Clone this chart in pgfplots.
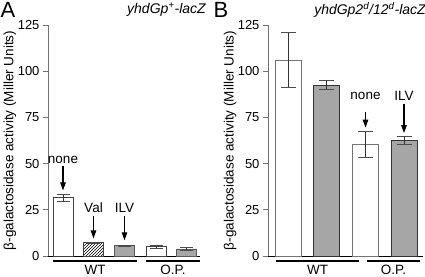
\documentclass[border=0pt]{standalone}
\usepackage{fontspec}
\setmainfont{Liberation Sans}
\usepackage{pgfplots}
\pgfplotsset{compat=1.18}
\usetikzlibrary{patterns,arrows.meta}
\definecolor{barg}{HTML}{A6A6A6}
\tikzset{
 arr/.style={-{Triangle[length=8pt,width=5.5pt]}, line width=1.1pt},
 lab/.style={font=\fontsize{13.5}{15}\selectfont, inner sep=1pt},
}
\begin{document}
\begin{tikzpicture}[x=1pt,y=1pt]
\useasboundingbox (0,0) rectangle (425,276);
\pgfplotsset{
 myax/.style={
  scale only axis, anchor=south west, height=231pt,
  ymin=0, ymax=125, ytick={0,25,50,75,100,125},
  axis x line*=bottom, axis y line*=left,
  x axis line style={black, line width=0.9pt, -},
  y axis line style={black!55, line width=0.9pt, -},
  xtick=\empty,
  tick align=outside, major tick length=5pt,
  ytick style={black!55, line width=0.9pt},
  ticklabel style={font=\fontsize{13}{15}\selectfont},
  /pgf/number format/assume math mode=true,
  ylabel={β-galactosidase activity (Miller Units)},
  label style={font=\fontsize{13.5}{15}\selectfont},
  clip=false,
  ybar, bar shift=0pt,
  error bars/y dir=both, error bars/y explicit,
  error bars/error mark=|,
  error bars/error bar style={black!80, line width=0.8pt},
 },
}
% Panel A
\begin{axis}[myax, at={(48pt,20pt)}, width=152pt, xmin=48, xmax=200, bar width=20pt,
  ylabel style={at={(axis description cs:-0.25,0.5)}, anchor=center},
  error bars/error mark options={black!70, line width=0.8pt, mark size=6.5pt}]
\addplot[draw=black!75, fill=white, line width=0.8pt] coordinates {(63,31.6) +- (0,1.8) (156.5,5.0) +- (0,1.0)};
\addplot[draw=black!75, pattern=north east lines, line width=0.8pt] coordinates {(93.5,7.2) +- (0,0.2)};
\addplot[draw=black!65, fill=barg, line width=0.8pt] coordinates {(124.5,5.6) +- (0,0.3) (186.5,3.8) +- (0,0.8)};
\node[lab] at (axis cs:63,52) {none};
\draw[arr] (axis cs:63,48.5) -- (axis cs:63,35.5);
\node[lab] at (axis cs:93.5,26) {Val};
\draw[arr] (axis cs:93.5,21.5) -- (axis cs:93.5,9.5);
\node[lab] at (axis cs:124.5,26) {ILV};
\draw[arr] (axis cs:124.5,21.5) -- (axis cs:124.5,8.5);
\draw[line width=1.2pt] (axis cs:53,-2.7) -- (axis cs:137,-2.7);
\draw[line width=1.2pt] (axis cs:146,-2.7) -- (axis cs:200,-2.7);
\node[lab] at (axis cs:95,-7.3) {WT};
\node[lab] at (axis cs:173,-7.3) {O.P.};
\end{axis}
% Panel B
\begin{axis}[myax, at={(268pt,20pt)}, width=155pt, xmin=268, xmax=423, bar width=26pt,
  ylabel style={at={(axis description cs:-0.245,0.5)}, anchor=center},
  error bars/error mark options={black!70, line width=0.8pt, mark size=7.5pt}]
\addplot[draw=black!55, fill=white, line width=0.8pt] coordinates {(288.5,106) +- (0,15) (365.5,60.5) +- (0,7)};
\addplot[draw=black!80, fill=barg, line width=0.8pt] coordinates {(326.5,92.5) +- (0,2.5) (404,62.5) +- (0,2)};
\node[lab] at (axis cs:365.5,86.5) {none};
\draw[arr] (axis cs:365.5,78) -- (axis cs:365.5,69.5);
\node[lab] at (axis cs:404,86.5) {ILV};
\draw[arr] (axis cs:404,82) -- (axis cs:404,66.5);
\draw[line width=1.2pt] (axis cs:276,-2.7) -- (axis cs:359,-2.7);
\draw[line width=1.2pt] (axis cs:367,-2.7) -- (axis cs:420,-2.7);
\node[lab] at (axis cs:317.5,-7.3) {WT};
\node[lab] at (axis cs:393.5,-7.3) {O.P.};
\end{axis}
% titles
\node[font=\fontsize{22}{24}\selectfont] at (8,266) {A};
\node[font=\fontsize{14}{16}\selectfont\itshape] at (166.5,266) {yhdGp\textsuperscript{+}-lacZ};
\node[font=\fontsize{22}{24}\selectfont] at (221,266) {B};
\node[font=\fontsize{14}{16}\selectfont\itshape] at (370,266) {yhdGp2\textsuperscript{d}/12\textsuperscript{d}-lacZ};
\end{tikzpicture}
\end{document}
